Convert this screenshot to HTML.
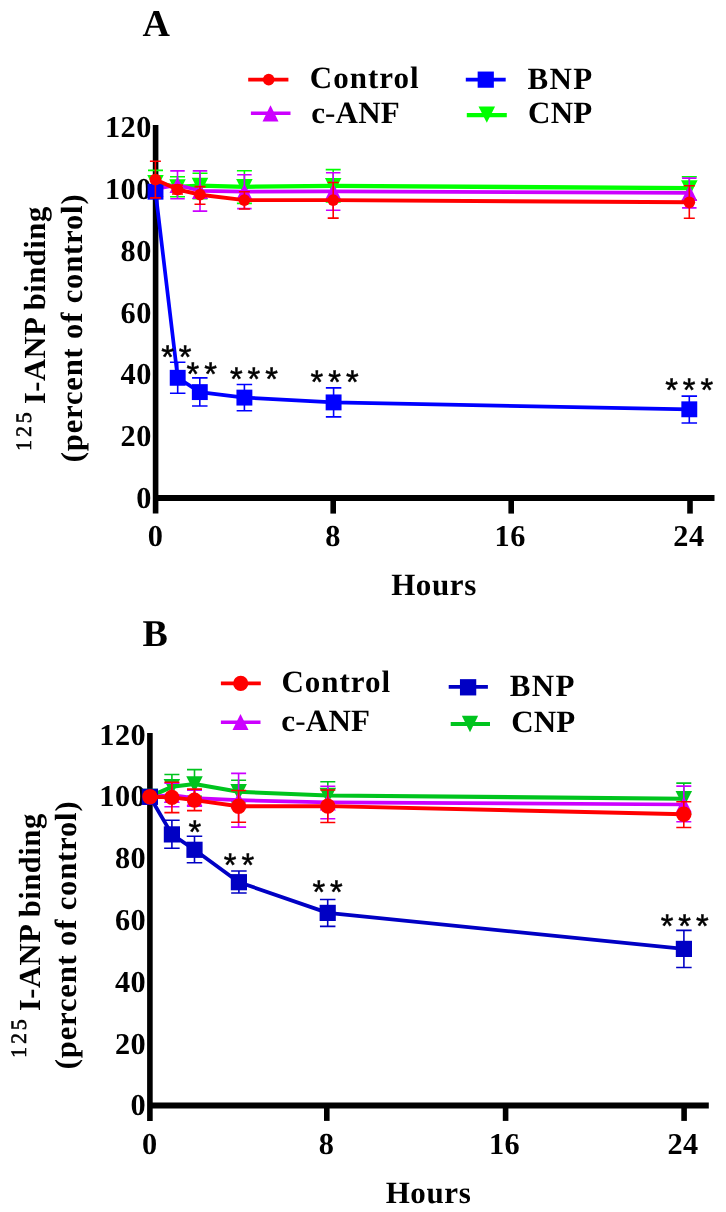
<!DOCTYPE html>
<html><head><meta charset="utf-8"><title>Figure</title>
<style>html,body{margin:0;padding:0;background:#fff}svg{shape-rendering:geometricPrecision}</style>
</head><body>
<svg width="726" height="1212" viewBox="0 0 726 1212" style="display:block" text-rendering="geometricPrecision">
<rect width="726" height="1212" fill="#fff"/>
<path d="M155.6 125V513.6" stroke="#000" stroke-width="5.6" fill="none"/>
<path d="M155.6 498.1H714.5" stroke="#000" stroke-width="6.0" fill="none"/>
<path d="M333.2 498.1V513.6" stroke="#000" stroke-width="5.6" fill="none"/>
<path d="M511.2 498.1V513.6" stroke="#000" stroke-width="5.6" fill="none"/>
<path d="M690 498.1V513.6" stroke="#000" stroke-width="5.6" fill="none"/>
<text x="151.9" y="508.0" font-size="30.3" text-anchor="end" letter-spacing="0.5" font-family="Liberation Serif, serif" font-weight="bold" >0</text>
<text x="151.9" y="446.2" font-size="30.3" text-anchor="end" letter-spacing="0.5" font-family="Liberation Serif, serif" font-weight="bold" >20</text>
<text x="151.9" y="384.40000000000003" font-size="30.3" text-anchor="end" letter-spacing="0.5" font-family="Liberation Serif, serif" font-weight="bold" >40</text>
<text x="151.9" y="322.6" font-size="30.3" text-anchor="end" letter-spacing="0.5" font-family="Liberation Serif, serif" font-weight="bold" >60</text>
<text x="151.9" y="260.8" font-size="30.3" text-anchor="end" letter-spacing="0.5" font-family="Liberation Serif, serif" font-weight="bold" >80</text>
<text x="151.9" y="199.0" font-size="30.3" text-anchor="end" letter-spacing="0.5" font-family="Liberation Serif, serif" font-weight="bold" >100</text>
<text x="151.9" y="137.20000000000005" font-size="30.3" text-anchor="end" letter-spacing="0.5" font-family="Liberation Serif, serif" font-weight="bold" >120</text>
<text x="155.5" y="546.3000000000001" font-size="30.3" text-anchor="middle" letter-spacing="0.5" font-family="Liberation Serif, serif" font-weight="bold" >0</text>
<text x="333.09999999999997" y="546.3000000000001" font-size="30.3" text-anchor="middle" letter-spacing="0.5" font-family="Liberation Serif, serif" font-weight="bold" >8</text>
<text x="510.2" y="546.3000000000001" font-size="30.3" text-anchor="middle" letter-spacing="0.5" font-family="Liberation Serif, serif" font-weight="bold" >16</text>
<text x="689.0" y="546.3000000000001" font-size="30.3" text-anchor="middle" letter-spacing="0.5" font-family="Liberation Serif, serif" font-weight="bold" >24</text>
<text x="142.6" y="35.8" font-size="38" text-anchor="start" letter-spacing="0" font-family="Liberation Serif, serif" font-weight="bold" >A</text>
<text x="434" y="595.2" font-size="31" text-anchor="middle" letter-spacing="0.6" font-family="Liberation Serif, serif" font-weight="bold" >Hours</text>
<g transform="translate(30.6 451) rotate(-90)"><text x="0" y="0" font-size="22" letter-spacing="2.9" font-family="Liberation Serif, serif" stroke="#000" stroke-width="0.6">125</text></g>
<g transform="translate(44.800000000000004 404.1) rotate(-90)"><text x="0" y="0" font-size="30.6" letter-spacing="0.5" font-family="Liberation Serif, serif" font-weight="bold">I-ANP binding</text></g>
<g transform="translate(82.0 462.2) rotate(-90)"><text x="0" y="0" font-size="30.6" letter-spacing="0.83" font-family="Liberation Serif, serif" font-weight="bold">(percent of control)</text></g>
<path d="M248.2 79.6H288.4" stroke="#ff0000" stroke-width="3.7"/>
<circle cx="268.7" cy="79.6" r="5.8" fill="#ff0000"/>
<text x="309.8" y="88.1" font-size="31" text-anchor="start" letter-spacing="1.0" font-family="Liberation Serif, serif" font-weight="bold" >Control</text>
<path d="M250.9 113.25H290.5" stroke="#cc00ff" stroke-width="3.5"/>
<path d="M270.5 105.30000000000001L278.5 121.5H262.5Z" fill="#cc00ff"/>
<text x="311.2" y="122.5" font-size="31" text-anchor="start" letter-spacing="0.15" font-family="Liberation Serif, serif" font-weight="bold" >c<tspan font-weight="normal">-</tspan>ANF</text>
<path d="M465.8 79.6H505.7" stroke="#0000ff" stroke-width="3.7"/>
<rect x="477.65" y="71.55000000000001" width="16.2" height="16.2" fill="#0000ff"/>
<text x="527.4" y="88.6" font-size="31" text-anchor="start" letter-spacing="1.4" font-family="Liberation Serif, serif" font-weight="bold" >BNP</text>
<path d="M466.8 115.2H506.8" stroke="#00ff00" stroke-width="4.2"/>
<path d="M486.8 122.8L495.1 106.4H478.5Z" fill="#00ff00"/>
<text x="528" y="123.3" font-size="31" text-anchor="start" letter-spacing="0.25" font-family="Liberation Serif, serif" font-weight="bold" >CNP</text>
<path d="M155.5 182.8L177.5 187L200 185.6L244.4 186.8L333.2 185.9L689.3 188.1" stroke="#00ff00" stroke-width="4.3" fill="none" stroke-linejoin="round"/>
<path d="M155.5 170.4V193.6M148.0 170.4H163.0M148.0 193.6H163.0" stroke="#00ff00" stroke-width="1.6" fill="none"/>
<path d="M177.5 176.8V196.8M170.0 176.8H185.0M170.0 196.8H185.0" stroke="#00ff00" stroke-width="1.6" fill="none"/>
<path d="M200 173.2V198.8M192.5 173.2H207.5M192.5 198.8H207.5" stroke="#00ff00" stroke-width="1.6" fill="none"/>
<path d="M244.4 170.7V203.4M236.9 170.7H251.9M236.9 203.4H251.9" stroke="#00ff00" stroke-width="1.6" fill="none"/>
<path d="M333.2 169.6V202M325.7 169.6H340.7M325.7 202H340.7" stroke="#00ff00" stroke-width="1.6" fill="none"/>
<path d="M689.3 176.7V199.9M681.8 176.7H696.8M681.8 199.9H696.8" stroke="#00ff00" stroke-width="1.6" fill="none"/>
<path d="M155.5 191.4L163.75 175.0H147.25Z" fill="#00ff00"/>
<path d="M177.5 195.6L185.75 179.2H169.25Z" fill="#00ff00"/>
<path d="M200 194.2L208.25 177.79999999999998H191.75Z" fill="#00ff00"/>
<path d="M244.4 195.4L252.65 179.0H236.15Z" fill="#00ff00"/>
<path d="M333.2 194.5L341.45 178.1H324.95Z" fill="#00ff00"/>
<path d="M689.3 196.7L697.55 180.29999999999998H681.05Z" fill="#00ff00"/>
<path d="M155.5 189L177.5 185L200 190.8L244.4 191.7L333.2 191.4L689.3 192.9" stroke="#cc00ff" stroke-width="3.7" fill="none" stroke-linejoin="round"/>
<path d="M177.5 170.9V198.8M170.25 170.9H184.75M170.25 198.8H184.75" stroke="#cc00ff" stroke-width="1.6" fill="none"/>
<path d="M200 170.9V211.1M192.75 170.9H207.25M192.75 211.1H207.25" stroke="#cc00ff" stroke-width="1.6" fill="none"/>
<path d="M244.4 174.8V208.6M237.15 174.8H251.65M237.15 208.6H251.65" stroke="#cc00ff" stroke-width="1.6" fill="none"/>
<path d="M333.2 172.8V210.3M325.95 172.8H340.45M325.95 210.3H340.45" stroke="#cc00ff" stroke-width="1.6" fill="none"/>
<path d="M689.3 178.1V207.9M682.05 178.1H696.55M682.05 207.9H696.55" stroke="#cc00ff" stroke-width="1.6" fill="none"/>
<path d="M155.5 180.9L163.5 197.1H147.5Z" fill="#cc00ff"/>
<path d="M177.5 176.9L185.5 193.1H169.5Z" fill="#cc00ff"/>
<path d="M200 182.70000000000002L208.0 198.9H192.0Z" fill="#cc00ff"/>
<path d="M244.4 183.6L252.4 199.79999999999998H236.4Z" fill="#cc00ff"/>
<path d="M333.2 183.3L341.2 199.5H325.2Z" fill="#cc00ff"/>
<path d="M689.3 184.8L697.3 201.0H681.3Z" fill="#cc00ff"/>
<path d="M155.5 191.7L177.7 377.8L199.8 392.1L244.4 397.6L333.6 402.4L689.3 409.3" stroke="#0000ff" stroke-width="3.7" fill="none" stroke-linejoin="round"/>
<path d="M177.7 362.2V393.3M169.95 362.2H185.45M169.95 393.3H185.45" stroke="#0000ff" stroke-width="1.6" fill="none"/>
<path d="M199.8 377.9V406M192.05 377.9H207.55M192.05 406H207.55" stroke="#0000ff" stroke-width="1.6" fill="none"/>
<path d="M244.4 384.5V410.7M236.65 384.5H252.15M236.65 410.7H252.15" stroke="#0000ff" stroke-width="1.6" fill="none"/>
<path d="M333.6 387.9V416.9M325.85 387.9H341.35M325.85 416.9H341.35" stroke="#0000ff" stroke-width="1.6" fill="none"/>
<path d="M689.3 396.1V423M681.55 396.1H697.05M681.55 423H697.05" stroke="#0000ff" stroke-width="1.6" fill="none"/>
<rect x="147.55" y="183.75" width="15.9" height="15.9" fill="#0000ff"/>
<rect x="169.75" y="369.85" width="15.9" height="15.9" fill="#0000ff"/>
<rect x="191.85000000000002" y="384.15000000000003" width="15.9" height="15.9" fill="#0000ff"/>
<rect x="236.45000000000002" y="389.65000000000003" width="15.9" height="15.9" fill="#0000ff"/>
<rect x="325.65000000000003" y="394.45" width="15.9" height="15.9" fill="#0000ff"/>
<rect x="681.3499999999999" y="401.35" width="15.9" height="15.9" fill="#0000ff"/>
<path d="M155.4 179.5L177.5 189.5L200 194.7L244.4 200.1L333.2 200.1L689.3 202.3" stroke="#ff0000" stroke-width="3.9" fill="none" stroke-linejoin="round"/>
<path d="M155.4 161.3V197.9M149.9 161.3H160.9M149.9 197.9H160.9" stroke="#ff0000" stroke-width="1.6" fill="none"/>
<path d="M177.5 185V194M172.0 185H183.0M172.0 194H183.0" stroke="#ff0000" stroke-width="1.6" fill="none"/>
<path d="M200 186.6V204.2M194.5 186.6H205.5M194.5 204.2H205.5" stroke="#ff0000" stroke-width="1.6" fill="none"/>
<path d="M244.4 191.7V209M238.9 191.7H249.9M238.9 209H249.9" stroke="#ff0000" stroke-width="1.6" fill="none"/>
<path d="M333.2 182.5V218.1M327.7 182.5H338.7M327.7 218.1H338.7" stroke="#ff0000" stroke-width="1.6" fill="none"/>
<path d="M689.3 185.8V218.3M683.8 185.8H694.8M683.8 218.3H694.8" stroke="#ff0000" stroke-width="1.6" fill="none"/>
<circle cx="155.4" cy="179.5" r="5.85" fill="#ff0000"/>
<circle cx="177.5" cy="189.5" r="5.85" fill="#ff0000"/>
<circle cx="200" cy="194.7" r="5.85" fill="#ff0000"/>
<circle cx="244.4" cy="200.1" r="5.85" fill="#ff0000"/>
<circle cx="333.2" cy="200.1" r="5.85" fill="#ff0000"/>
<circle cx="689.3" cy="202.3" r="5.85" fill="#ff0000"/>
<text x="161.18" y="368.03" font-size="32.6" letter-spacing="5.02" font-family="Liberation Sans, sans-serif" font-weight="normal" fill="#000" stroke="#000" stroke-width="0.5">**</text>
<text x="186.58" y="385.13" font-size="32.6" letter-spacing="5.02" font-family="Liberation Sans, sans-serif" font-weight="normal" fill="#000" stroke="#000" stroke-width="0.5">**</text>
<text x="229.88" y="390.33" font-size="32.6" letter-spacing="5.02" font-family="Liberation Sans, sans-serif" font-weight="normal" fill="#000" stroke="#000" stroke-width="0.5">***</text>
<text x="310.58" y="393.43" font-size="32.6" letter-spacing="5.02" font-family="Liberation Sans, sans-serif" font-weight="normal" fill="#000" stroke="#000" stroke-width="0.5">***</text>
<text x="665.18" y="401.43" font-size="32.6" letter-spacing="5.02" font-family="Liberation Sans, sans-serif" font-weight="normal" fill="#000" stroke="#000" stroke-width="0.5">***</text>
<path d="M149.9 732.9V1120.9" stroke="#000" stroke-width="5.6" fill="none"/>
<path d="M149.9 1105.4H708.8" stroke="#000" stroke-width="6.0" fill="none"/>
<path d="M326.8 1105.4V1120.9" stroke="#000" stroke-width="5.6" fill="none"/>
<path d="M505.6 1105.4V1120.9" stroke="#000" stroke-width="5.6" fill="none"/>
<path d="M684.1 1105.4V1120.9" stroke="#000" stroke-width="5.6" fill="none"/>
<text x="146.20000000000002" y="1115.3000000000002" font-size="30.3" text-anchor="end" letter-spacing="0.5" font-family="Liberation Serif, serif" font-weight="bold" >0</text>
<text x="146.20000000000002" y="1053.5000000000002" font-size="30.3" text-anchor="end" letter-spacing="0.5" font-family="Liberation Serif, serif" font-weight="bold" >20</text>
<text x="146.20000000000002" y="991.7000000000002" font-size="30.3" text-anchor="end" letter-spacing="0.5" font-family="Liberation Serif, serif" font-weight="bold" >40</text>
<text x="146.20000000000002" y="929.9000000000002" font-size="30.3" text-anchor="end" letter-spacing="0.5" font-family="Liberation Serif, serif" font-weight="bold" >60</text>
<text x="146.20000000000002" y="868.1000000000001" font-size="30.3" text-anchor="end" letter-spacing="0.5" font-family="Liberation Serif, serif" font-weight="bold" >80</text>
<text x="146.20000000000002" y="806.3000000000002" font-size="30.3" text-anchor="end" letter-spacing="0.5" font-family="Liberation Serif, serif" font-weight="bold" >100</text>
<text x="146.20000000000002" y="744.5000000000002" font-size="30.3" text-anchor="end" letter-spacing="0.5" font-family="Liberation Serif, serif" font-weight="bold" >120</text>
<text x="149.8" y="1153.6000000000001" font-size="30.3" text-anchor="middle" letter-spacing="0.5" font-family="Liberation Serif, serif" font-weight="bold" >0</text>
<text x="326.7" y="1153.6000000000001" font-size="30.3" text-anchor="middle" letter-spacing="0.5" font-family="Liberation Serif, serif" font-weight="bold" >8</text>
<text x="504.6" y="1153.6000000000001" font-size="30.3" text-anchor="middle" letter-spacing="0.5" font-family="Liberation Serif, serif" font-weight="bold" >16</text>
<text x="683.1" y="1153.6000000000001" font-size="30.3" text-anchor="middle" letter-spacing="0.5" font-family="Liberation Serif, serif" font-weight="bold" >24</text>
<text x="142.6" y="645.5" font-size="38" text-anchor="start" letter-spacing="0" font-family="Liberation Serif, serif" font-weight="bold" >B</text>
<text x="428.5" y="1203.2" font-size="31" text-anchor="middle" letter-spacing="0.6" font-family="Liberation Serif, serif" font-weight="bold" >Hours</text>
<g transform="translate(25.700000000000003 1058) rotate(-90)"><text x="0" y="0" font-size="22" letter-spacing="2.9" font-family="Liberation Serif, serif" stroke="#000" stroke-width="0.6">125</text></g>
<g transform="translate(39.900000000000006 1011.1) rotate(-90)"><text x="0" y="0" font-size="30.6" letter-spacing="0.5" font-family="Liberation Serif, serif" font-weight="bold">I-ANP binding</text></g>
<g transform="translate(76.4 1069.2) rotate(-90)"><text x="0" y="0" font-size="30.6" letter-spacing="0.83" font-family="Liberation Serif, serif" font-weight="bold">(percent of control)</text></g>
<path d="M220.9 683.4H260.8" stroke="#ff0000" stroke-width="3.8"/>
<circle cx="240.7" cy="683.4" r="7.6" fill="#ff0000"/>
<text x="281.4" y="692.2" font-size="31" text-anchor="start" letter-spacing="1.0" font-family="Liberation Serif, serif" font-weight="bold" >Control</text>
<path d="M220.9 722.3H260.5" stroke="#cc00ff" stroke-width="3.6"/>
<path d="M240.5 713.9L248.5 730.1H232.5Z" fill="#cc00ff"/>
<text x="281.2" y="730.8" font-size="31" text-anchor="start" letter-spacing="0.25" font-family="Liberation Serif, serif" font-weight="bold" >c<tspan font-weight="normal">-</tspan>ANF</text>
<path d="M448.7 686.9H487.9" stroke="#0000c4" stroke-width="3.8"/>
<rect x="459.95000000000005" y="679.15" width="16.3" height="16.3" fill="#0000c4"/>
<text x="509.8" y="696.3" font-size="31" text-anchor="start" letter-spacing="1.3" font-family="Liberation Serif, serif" font-weight="bold" >BNP</text>
<path d="M450.7 724.0H490" stroke="#00c41e" stroke-width="4.0"/>
<path d="M470 732.2L478.15 715.8000000000001H461.85Z" fill="#00c41e"/>
<text x="511.2" y="732.1" font-size="31" text-anchor="start" letter-spacing="0.1" font-family="Liberation Serif, serif" font-weight="bold" >CNP</text>
<path d="M149.9 796.5L171.9 786.8L194.5 784L238.6 791.8L327.8 795.5L683.8 798.7" stroke="#00c41e" stroke-width="4.1" fill="none" stroke-linejoin="round"/>
<path d="M171.9 774.5V797.5M164.4 774.5H179.4M164.4 797.5H179.4" stroke="#00c41e" stroke-width="1.6" fill="none"/>
<path d="M194.5 769.6V796.4M187.0 769.6H202.0M187.0 796.4H202.0" stroke="#00c41e" stroke-width="1.6" fill="none"/>
<path d="M238.6 780.3V801.7M231.1 780.3H246.1M231.1 801.7H246.1" stroke="#00c41e" stroke-width="1.6" fill="none"/>
<path d="M327.8 781.8V807.6M320.3 781.8H335.3M320.3 807.6H335.3" stroke="#00c41e" stroke-width="1.6" fill="none"/>
<path d="M683.8 783.1V813.5M676.3 783.1H691.3M676.3 813.5H691.3" stroke="#00c41e" stroke-width="1.6" fill="none"/>
<path d="M149.9 805.1L158.15 788.7H141.65Z" fill="#00c41e"/>
<path d="M171.9 795.4L180.15 779.0H163.65Z" fill="#00c41e"/>
<path d="M194.5 792.6L202.75 776.2H186.25Z" fill="#00c41e"/>
<path d="M238.6 800.4L246.85 784.0H230.35Z" fill="#00c41e"/>
<path d="M327.8 804.1L336.05 787.7H319.55Z" fill="#00c41e"/>
<path d="M683.8 807.3000000000001L692.05 790.9000000000001H675.55Z" fill="#00c41e"/>
<path d="M149.9 796.8L171.9 795L194.5 798.2L238.6 800.2L327.8 802.3L683.8 804.5" stroke="#cc00ff" stroke-width="3.7" fill="none" stroke-linejoin="round"/>
<path d="M171.9 783.3V806.7M164.4 783.3H179.4M164.4 806.7H179.4" stroke="#cc00ff" stroke-width="1.6" fill="none"/>
<path d="M194.5 790.2V806.2M187.0 790.2H202.0M187.0 806.2H202.0" stroke="#cc00ff" stroke-width="1.6" fill="none"/>
<path d="M238.6 773.4V827.1M231.1 773.4H246.1M231.1 827.1H246.1" stroke="#cc00ff" stroke-width="1.6" fill="none"/>
<path d="M327.8 786.2V818.7M320.3 786.2H335.3M320.3 818.7H335.3" stroke="#cc00ff" stroke-width="1.6" fill="none"/>
<path d="M683.8 786.1V821.8M676.3 786.1H691.3M676.3 821.8H691.3" stroke="#cc00ff" stroke-width="1.6" fill="none"/>
<path d="M149.9 788.6999999999999L157.9 804.9H141.9Z" fill="#cc00ff"/>
<path d="M171.9 786.9L179.9 803.1H163.9Z" fill="#cc00ff"/>
<path d="M194.5 790.1L202.5 806.3000000000001H186.5Z" fill="#cc00ff"/>
<path d="M238.6 792.1L246.6 808.3000000000001H230.6Z" fill="#cc00ff"/>
<path d="M327.8 794.1999999999999L335.8 810.4H319.8Z" fill="#cc00ff"/>
<path d="M683.8 796.4L691.8 812.6H675.8Z" fill="#cc00ff"/>
<path d="M149.9 796.8L171.9 834.4L194.5 849.8L238.9 882.2L327.7 912.9L683.9 948.9" stroke="#0000c4" stroke-width="3.8" fill="none" stroke-linejoin="round"/>
<path d="M171.9 820.2V848.2M164.15 820.2H179.65M164.15 848.2H179.65" stroke="#0000c4" stroke-width="1.6" fill="none"/>
<path d="M194.5 836.3V862.7M186.75 836.3H202.25M186.75 862.7H202.25" stroke="#0000c4" stroke-width="1.6" fill="none"/>
<path d="M238.9 871V893M231.15 871H246.65M231.15 893H246.65" stroke="#0000c4" stroke-width="1.6" fill="none"/>
<path d="M327.7 899.5V926.4M319.95 899.5H335.45M319.95 926.4H335.45" stroke="#0000c4" stroke-width="1.6" fill="none"/>
<path d="M683.9 930.4V967.5M676.15 930.4H691.65M676.15 967.5H691.65" stroke="#0000c4" stroke-width="1.6" fill="none"/>
<rect x="141.8" y="788.6999999999999" width="16.2" height="16.2" fill="#0000c4"/>
<rect x="163.8" y="826.3" width="16.2" height="16.2" fill="#0000c4"/>
<rect x="186.4" y="841.6999999999999" width="16.2" height="16.2" fill="#0000c4"/>
<rect x="230.8" y="874.1" width="16.2" height="16.2" fill="#0000c4"/>
<rect x="319.59999999999997" y="904.8" width="16.2" height="16.2" fill="#0000c4"/>
<rect x="675.8" y="940.8" width="16.2" height="16.2" fill="#0000c4"/>
<path d="M149.9 796.8L171.9 797.4L194.5 800.1L238.6 806.3L327.8 806.1L683.8 814.2" stroke="#ff0000" stroke-width="3.9" fill="none" stroke-linejoin="round"/>
<path d="M171.9 782.2V812.6M164.4 782.2H179.4M164.4 812.6H179.4" stroke="#ff0000" stroke-width="1.6" fill="none"/>
<path d="M194.5 789.1V810.6M187.0 789.1H202.0M187.0 810.6H202.0" stroke="#ff0000" stroke-width="1.6" fill="none"/>
<path d="M238.6 790.5V822.2M231.1 790.5H246.1M231.1 822.2H246.1" stroke="#ff0000" stroke-width="1.6" fill="none"/>
<path d="M327.8 790V822.5M320.3 790H335.3M320.3 822.5H335.3" stroke="#ff0000" stroke-width="1.6" fill="none"/>
<path d="M683.8 801.7V827.5M676.3 801.7H691.3M676.3 827.5H691.3" stroke="#ff0000" stroke-width="1.6" fill="none"/>
<circle cx="149.9" cy="796.8" r="7.7" fill="#ff0000"/>
<circle cx="171.9" cy="797.4" r="7.7" fill="#ff0000"/>
<circle cx="194.5" cy="800.1" r="7.7" fill="#ff0000"/>
<circle cx="238.6" cy="806.3" r="7.7" fill="#ff0000"/>
<circle cx="327.8" cy="806.1" r="7.7" fill="#ff0000"/>
<circle cx="683.8" cy="814.2" r="7.7" fill="#ff0000"/>
<text x="188.48" y="843.03" font-size="32.6" letter-spacing="5.02" font-family="Liberation Sans, sans-serif" font-weight="normal" fill="#000" stroke="#000" stroke-width="0.5">*</text>
<text x="223.78" y="876.33" font-size="32.6" letter-spacing="5.02" font-family="Liberation Sans, sans-serif" font-weight="normal" fill="#000" stroke="#000" stroke-width="0.5">**</text>
<text x="312.38" y="903.43" font-size="32.6" letter-spacing="5.02" font-family="Liberation Sans, sans-serif" font-weight="normal" fill="#000" stroke="#000" stroke-width="0.5">**</text>
<text x="660.68" y="936.63" font-size="32.6" letter-spacing="5.02" font-family="Liberation Sans, sans-serif" font-weight="normal" fill="#000" stroke="#000" stroke-width="0.5">***</text>
</svg>
</body></html>
